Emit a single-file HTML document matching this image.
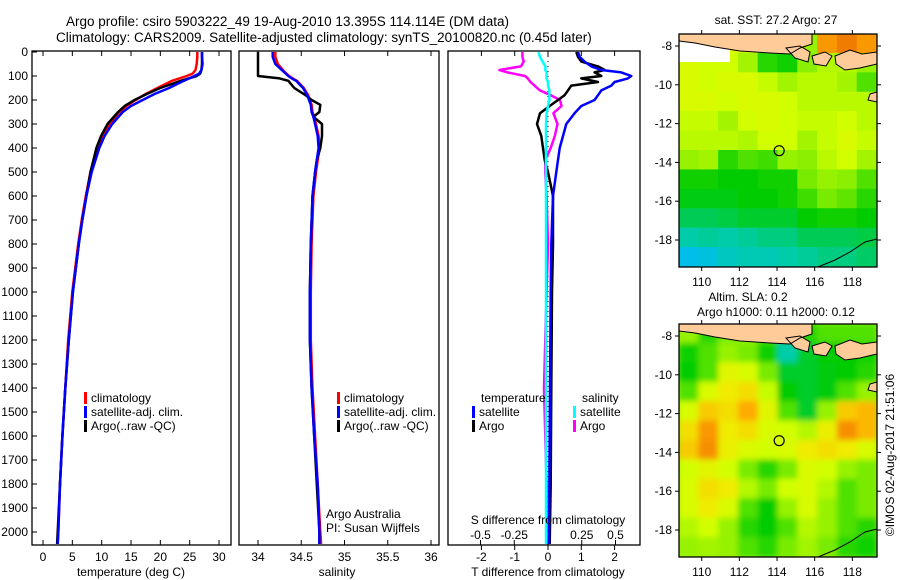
<!DOCTYPE html>
<html><head><meta charset="utf-8"><style>
body{margin:0;background:#fff;}
svg{display:block;font-family:"Liberation Sans",sans-serif;}
text{font-size:12px;fill:#000;}
</style></head><body>
<svg id="chart" width="900" height="580" viewBox="0 0 900 580">
<defs>
<filter id="blur" x="-5%" y="-5%" width="110%" height="110%"><feGaussianBlur stdDeviation="3"/></filter>
<clipPath id="clipMap1"><rect x="679" y="34" width="198" height="233"/></clipPath>
<clipPath id="clipMap2"><rect x="679" y="324" width="198" height="233"/></clipPath>
<clipPath id="clipP1"><rect x="32" y="51" width="199" height="494"/></clipPath>
<clipPath id="clipP2"><rect x="239" y="51" width="200" height="494"/></clipPath>
<clipPath id="clipP3"><rect x="448" y="51" width="192" height="494"/></clipPath>
</defs>
<text x="66" y="26" style="font-size:13.5px">Argo profile: csiro 5903222_49 19-Aug-2010 13.395S 114.114E (DM data)</text>
<text x="56" y="42" style="font-size:13.5px">Climatology: CARS2009. Satellite-adjusted climatology: synTS_20100820.nc (0.45d later)</text>
<g id="g1"></g><g id="g2"></g><g id="g3"></g><g id="m1"></g><g id="m2"></g>
<text transform="translate(894,455) rotate(-90)" text-anchor="middle">©IMOS 02-Aug-2017 21:51:06</text>
</svg>
<script>
// ---- data ----
const tDepths=[0,20,50,75,90,100,120,150,175,200,225,250,300,350,400,500,600,700,800,1000,1200,1400,1600,1800,2000,2050];
const climT=[26.3,26.3,26.2,26.0,25.5,24.5,22,19.5,17.5,15.8,14.2,13,11.3,10.1,9.2,8.1,7.3,6.6,6.0,5.0,4.3,3.8,3.3,2.9,2.6,2.5];
const satT=[27.1,27.1,27.2,27.0,26.6,25.8,24,21.5,19,17,15,13.6,11.8,10.5,9.6,8.3,7.4,6.7,6.1,5.1,4.4,3.8,3.3,2.9,2.6,2.5];
const argoT=[27.1,27.1,27.1,27.0,26.8,26.2,23.5,20,17.7,15.6,13.9,12.8,11,9.9,9.1,8.1,7.4,6.7,6.1,5.1,4.4,3.8,3.3,2.9,2.5,2.4];
const sDepths=[0,20,50,80,100,110,120,150,180,200,220,250,270,300,350,400,450,500,600,800,1000,1200,1400,1600,1800,2000,2050];
const climS=[34.2,34.2,34.23,34.3,34.36,34.4,34.45,34.53,34.58,34.6,34.62,34.63,34.65,34.67,34.7,34.71,34.69,34.67,34.64,34.62,34.61,34.61,34.63,34.66,34.69,34.72,34.73];
const satS=[34.17,34.17,34.2,34.29,34.35,34.39,34.44,34.52,34.57,34.59,34.61,34.62,34.64,34.66,34.69,34.7,34.68,34.66,34.63,34.61,34.6,34.6,34.62,34.65,34.69,34.71,34.71];
const argoS=[34.0,34.0,34.0,34.0,34.0,34.25,34.35,34.42,34.55,34.62,34.72,34.71,34.64,34.74,34.74,34.72,34.68,34.66,34.63,34.61,34.6,34.6,34.62,34.65,34.68,34.71,34.71];
const dDepths=[0,20,40,60,75,85,100,110,125,140,160,180,200,225,255,300,350,400,450,500,600,800,1000,1400,1800,2050];
const satDT=[0.9,0.95,1.1,1.3,1.6,2.2,2.5,2.4,2.0,1.9,1.6,1.5,1.4,1.0,0.8,0.55,0.45,0.35,0.3,0.25,0.15,0.1,0.08,0.06,0.04,0.03];
const argoDT=[0.85,0.9,1.0,1.5,1.7,1.4,1.6,1.0,1.5,0.7,0.6,0.5,0.3,0.05,-0.24,-0.33,-0.2,-0.15,-0.1,0.0,0.15,0.15,0.12,0.1,0.08,0.05];
const satDS=[-0.07,-0.06,-0.04,-0.02,-0.02,-0.01,-0.01,-0.01,0,0,0.01,0.01,0.01,0,-0.01,-0.015,-0.015,-0.015,-0.015,-0.015,-0.015,-0.015,-0.015,-0.015,-0.015,-0.015];
const argoDS=[-0.19,-0.19,-0.18,-0.2,-0.36,-0.3,-0.17,-0.15,-0.13,-0.1,-0.06,0.02,0.09,0.1,0.04,0.07,0.05,0.02,-0.02,-0.02,-0.01,0,-0.01,-0.03,-0.01,-0.01];
const depthTicks=[0,100,200,300,400,500,600,700,800,900,1000,1100,1200,1300,1400,1500,1600,1700,1800,1900,2000];
const tempTicks=[0,5,10,15,20,25,30];
const salTicks=[34,34.5,35,35.5,36];
const dtTicks=[-2,-1,0,1,2];
const dsTicks=[-0.5,-0.25,0,0.25,0.5];
const dsTickLabels=["-0.5","-0.25","0","0.25","0.5"];
const latTicks=[-8,-10,-12,-14,-16,-18];
const lonTicks=[110,112,114,116,118];
const sstGrid=[
[0.7,0.7,0.72,0.72,0.6,0.45,0.6,0.92,0.95,0.92],
[0.72,0.7,0.7,0.62,0.45,0.42,0.58,0.65,0.65,0.6],
[0.72,0.7,0.72,0.72,0.68,0.62,0.66,0.66,0.62,0.5],
[0.72,0.72,0.7,0.72,0.72,0.7,0.66,0.66,0.66,0.66],
[0.68,0.68,0.62,0.7,0.72,0.7,0.68,0.68,0.7,0.66],
[0.66,0.66,0.66,0.64,0.7,0.7,0.62,0.68,0.72,0.68],
[0.6,0.62,0.45,0.5,0.48,0.6,0.58,0.66,0.7,0.62],
[0.42,0.42,0.4,0.4,0.42,0.42,0.55,0.6,0.58,0.5],
[0.38,0.38,0.38,0.4,0.4,0.42,0.48,0.55,0.52,0.45],
[0.3,0.3,0.32,0.35,0.35,0.35,0.4,0.42,0.42,0.4],
[0.2,0.22,0.2,0.22,0.25,0.25,0.3,0.3,0.3,0.32],
[0.05,0.08,0.15,0.18,0.18,0.2,0.22,0.25,0.25,0.28]];
const slaGrid=[
[0.6,0.45,0.55,0.6,0.5,0.3,0.45,0.5,0.5,0.5],
[0.42,0.5,0.6,0.55,0.42,0.2,0.35,0.4,0.4,0.42],
[0.4,0.5,0.75,0.72,0.55,0.35,0.35,0.38,0.4,0.45],
[0.5,0.72,0.8,0.82,0.68,0.4,0.35,0.38,0.5,0.6],
[0.72,0.85,0.82,0.9,0.75,0.5,0.35,0.6,0.85,0.88],
[0.82,0.92,0.8,0.82,0.72,0.7,0.65,0.78,0.93,0.88],
[0.85,0.93,0.78,0.72,0.7,0.72,0.8,0.82,0.8,0.72],
[0.7,0.75,0.7,0.55,0.45,0.55,0.72,0.7,0.6,0.55],
[0.72,0.82,0.8,0.65,0.55,0.7,0.72,0.65,0.5,0.55],
[0.72,0.8,0.72,0.5,0.4,0.6,0.72,0.6,0.5,0.55],
[0.65,0.7,0.6,0.45,0.4,0.5,0.65,0.6,0.5,0.45],
[0.6,0.62,0.6,0.5,0.45,0.55,0.62,0.55,0.45,0.42]];
const argoLon=114.114, argoLat=-13.395;

// ---- helpers ----
const NS="http://www.w3.org/2000/svg";
function mk(tag,attrs,parent,txt){const e=document.createElementNS(NS,tag);for(const k in attrs)e.setAttribute(k,attrs[k]);if(txt!==undefined)e.textContent=txt;parent.appendChild(e);return e;}
const yD=d=>52+d*0.24;
const xT=v=>43+v*5.867;
const xS=v=>258+(v-34)*86.5;
const xDT=v=>548+v*33.3;
const xDS=v=>548+v*135;
function line(parent,depths,vals,fx,color,name,clip){
  const pts=depths.map((d,i)=>fx(vals[i]).toFixed(1)+","+yD(d).toFixed(1)).join(" ");
  const p=mk("polyline",{points:pts,fill:"none",stroke:color,"stroke-width":2.5,"stroke-linejoin":"round","clip-path":"url(#"+clip+")"},parent);
  
  
}
function frame(parent,x,y,w,h,name){
  const r=mk("rect",{x:x,y:y,width:w,height:h,fill:"none",stroke:"#000","stroke-width":1.3},parent);
  
  
}
function xticks(parent,ticks,fx,labels,yTop,yBot,labY,name){
  ticks.forEach((t,i)=>{
    mk("line",{x1:fx(t),x2:fx(t),y1:yBot,y2:yBot-5,stroke:"#000"},parent);
    mk("line",{x1:fx(t),x2:fx(t),y1:yTop,y2:yTop+5,stroke:"#000"},parent);
    const tx=mk("text",{x:fx(t),y:labY,"text-anchor":"middle"},parent,labels?labels[i]:String(t));
    
    
  });
}
function legend(parent,x,y,items){
  items.forEach((it,i)=>{
    mk("rect",{x:x,y:y+i*14-10,width:3,height:12,fill:it[0]},parent);
    const t=mk("text",{x:x+7,y:y+i*14},parent,it[1]);
    
    
  });
}

// ---- panel 1: temperature ----
const g1=document.getElementById("g1");
frame(g1,32,51,199,494,"temperature-panel-frame");
depthTicks.forEach(d=>{
  mk("line",{x1:32,x2:37,y1:yD(d),y2:yD(d),stroke:"#000"},g1);
  const t=mk("text",{x:28,y:yD(d)+4,"text-anchor":"end"},g1,String(d));
  
  
});
xticks(g1,tempTicks,xT,null,51,545,561,"temperature-tick-label");
line(g1,tDepths,climT,xT,"#f00","climatology-temperature","clipP1");
line(g1,tDepths,argoT,xT,"#000","argo-temperature","clipP1");
line(g1,tDepths,satT,xT,"#00f","satellite-temperature","clipP1");
legend(g1,84,402,[["#f00","climatology"],["#00f","satellite-adj. clim."],["#000","Argo(..raw -QC)"]]);
mk("text",{x:131,y:576,"text-anchor":"middle",},g1,"temperature (deg C)");

// ---- panel 2: salinity ----
const g2=document.getElementById("g2");
frame(g2,239,51,200,494,"salinity-panel-frame");
xticks(g2,salTicks,xS,["34","34.5","35","35.5","36"],51,545,561,"salinity-tick-label");
line(g2,sDepths,climS,xS,"#f00","climatology-salinity","clipP2");
line(g2,sDepths,argoS,xS,"#000","argo-salinity","clipP2");
line(g2,sDepths,satS,xS,"#00f","satellite-salinity","clipP2");
legend(g2,337,402,[["#f00","climatology"],["#00f","satellite-adj. clim."],["#000","Argo(..raw -QC)"]]);
mk("text",{x:326,y:518,},g2,"Argo Australia");
mk("text",{x:326,y:532,},g2,"PI: Susan Wijffels");
mk("text",{x:337,y:576,"text-anchor":"middle",},g2,"salinity");

// ---- panel 3: differences ----
const g3=document.getElementById("g3");
frame(g3,448,51,192,494,"difference-panel-frame");
dtTicks.forEach(t=>{
  mk("line",{x1:xDT(t),x2:xDT(t),y1:51,y2:56,stroke:"#000"},g3);
  mk("line",{x1:xDT(t),x2:xDT(t),y1:545,y2:550,stroke:"#000"},g3);
  const tx=mk("text",{x:xDT(t),y:561,"text-anchor":"middle"},g3,String(t));
  
  
});
dsTicks.forEach((t,i)=>{
  mk("line",{x1:xDS(t),x2:xDS(t),y1:545,y2:540,stroke:"#000"},g3);
  const tx=mk("text",{x:xDS(t),y:539,"text-anchor":"middle"},g3,dsTickLabels[i]);
  
  
});
mk("line",{x1:548,x2:548,y1:51,y2:545,stroke:"#000","stroke-dasharray":"1,4"},g3);
line(g3,dDepths,argoDS,xDS,"#f0f","argo-salinity-difference","clipP3");
line(g3,dDepths,argoDT,xDT,"#000","argo-temperature-difference","clipP3");
line(g3,dDepths,satDT,xDT,"#00f","satellite-temperature-difference","clipP3");
line(g3,dDepths,satDS,xDS,"#0ff","satellite-salinity-difference","clipP3");
mk("text",{x:481,y:402,},g3,"temperature");
mk("text",{x:582,y:402,},g3,"salinity");
legend(g3,472,416,[["#00f","satellite"],["#000","Argo"]]);
legend(g3,573,416,[["#0ff","satellite"],["#f0f","Argo"]]);
mk("text",{x:548,y:524,"text-anchor":"middle",},g3,"S difference from climatology");
mk("text",{x:548,y:576,"text-anchor":"middle",},g3,"T difference from climatology");

// ---- maps ----
function cmap(v){
  const stops=[[0,[0,185,255]],[0.2,[0,204,170]],[0.4,[0,204,0]],[0.55,[120,235,0]],[0.7,[210,255,0]],[0.8,[240,235,0]],[0.9,[255,170,0]],[1,[224,80,0]]];
  for(let i=1;i<stops.length;i++){if(v<=stops[i][0]){const a=stops[i-1],b=stops[i],f=(v-a[0])/(b[0]-a[0]);return "rgb("+a[1].map((c,k)=>Math.round(c+(b[1][k]-c)*f)).join(",")+")";}}
  return "rgb(224,80,0)";
}
function map(gid,top,grid,titleLines,name,clip,blurOn){
  const g=document.getElementById(gid);
  const lon=v=>701.7+(v-110)*18.83;
  const yLat=v=>(top+12)+(-8-v)*19.4;
  const fg=mk("g",{"clip-path":"url(#"+clip+")"},g);
  mk("rect",{x:679,y:top,width:198,height:233,fill:cmap(0.6)},fg);
  const cg=mk("g",blurOn?{filter:"url(#blur)"}:{},fg);
  const cw=198/10,ch=233/12;
  grid.forEach((row,r)=>row.forEach((v,c)=>{
    const cell=mk("rect",{x:679+c*cw-0.5,y:top+r*ch-0.5,width:cw+1,height:ch+1,fill:cmap(v)},cg);
    
    
  }));
  if(!blurOn) mk("polygon",{points:`679,${top} 730,${top} 730,${top+28} 679,${top+28}`,fill:"#fff"},fg);
  const land=mk("path",{d:`M679,${top} L812,${top} L812,${top+10} L800,${top+14} L790,${top+20} L770,${top+19} L740,${top+17} L715,${top+13} L695,${top+9} L679,${top+7} Z
  M786,${top+14} L800,${top+12} L810,${top+18} L808,${top+28} L795,${top+24} Z
  M812,${top+22} L825,${top+18} L832,${top+22} L826,${top+32} L814,${top+30} Z
  M835,${top+22} L850,${top+16} L862,${top+20} L877,${top+18} L877,${top+30} L860,${top+34} L845,${top+36} L836,${top+30} Z
  M870,${top+60} L877,${top+58} L877,${top+68} L868,${top+66} Z`,fill:"#ffcc99",stroke:"#000","stroke-width":1},fg);
  
  
  mk("polyline",{points:`818,${top+233} 835,${top+226} 850,${top+218} 865,${top+208} 877,${top+205}`,fill:"none",stroke:"#000","stroke-width":1},fg);
  frame(g,679,top,198,233,name+"-frame");
  lonTicks.forEach(t=>{
    mk("line",{x1:lon(t),x2:lon(t),y1:top,y2:top-4,stroke:"#000"},g);
    mk("line",{x1:lon(t),x2:lon(t),y1:top+233,y2:top+237,stroke:"#000"},g);
    const tx=mk("text",{x:lon(t),y:top+252,"text-anchor":"middle"},g,String(t));
    
    
  });
  latTicks.forEach(t=>{
    mk("line",{x1:679,x2:675,y1:yLat(t),y2:yLat(t),stroke:"#000"},g);
    mk("line",{x1:877,x2:881,y1:yLat(t),y2:yLat(t),stroke:"#000"},g);
    const tx=mk("text",{x:672,y:yLat(t)+4,"text-anchor":"end"},g,String(t));
    
    
  });
  const c=mk("circle",{cx:lon(argoLon),cy:yLat(argoLat),r:5,fill:"none",stroke:"#000","stroke-width":1.2},g);
  
  
  titleLines.forEach((l,i)=>{
    const tx=mk("text",{x:l[1],y:l[2],"text-anchor":"middle"},g,l[0]);
    
    
  });
}
map("m1",34,sstGrid,[["sat. SST: 27.2 Argo: 27",776,24]],"sst-map","clipMap1",false);
map("m2",324,slaGrid,[["Altim. SLA: 0.2",748,301],["Argo h1000: 0.11 h2000: 0.12",776,316]],"sla-map","clipMap2",true);
</script>
</body></html>
